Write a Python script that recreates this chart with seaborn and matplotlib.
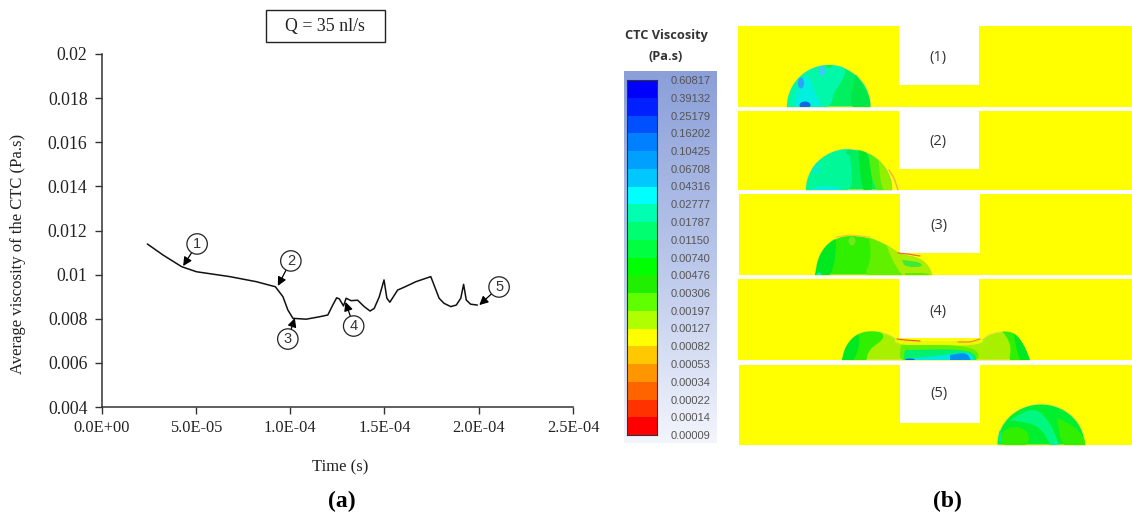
import numpy as np
import pandas as pd
import seaborn as sns
import matplotlib.pyplot as plt
from matplotlib.colors import ListedColormap, LinearSegmentedColormap
from matplotlib.patches import Polygon, Ellipse, Rectangle

# curve
time_s = [2.43e-5, 3.26e-5, 4.25e-5, 5.04e-5, 6.80e-5, 8.21e-5, 9.22e-5, 9.62e-5, 9.88e-5, 1.015e-4,
          1.085e-4, 1.156e-4, 1.200e-4, 1.226e-4, 1.247e-4, 1.261e-4, 1.283e-4, 1.297e-4, 1.323e-4, 1.358e-4,
          1.393e-4, 1.424e-4, 1.446e-4, 1.473e-4, 1.498e-4, 1.513e-4, 1.529e-4, 1.570e-4, 1.605e-4, 1.667e-4,
          1.746e-4, 1.790e-4, 1.816e-4, 1.852e-4, 1.881e-4, 1.905e-4, 1.920e-4, 1.934e-4, 1.957e-4, 1.993e-4]
viscosity = [0.01139, 0.01089, 0.01036, 0.01013, 0.00991, 0.00968, 0.00945, 0.00900, 0.00840, 0.00802,
             0.00798, 0.00809, 0.00817, 0.00862, 0.00895, 0.00890, 0.00858, 0.00893, 0.00882, 0.00884,
             0.00855, 0.00835, 0.00847, 0.00900, 0.00976, 0.00893, 0.00875, 0.00930, 0.00943, 0.00968,
             0.00991, 0.00893, 0.00870, 0.00855, 0.00862, 0.00893, 0.00956, 0.00885, 0.00866, 0.00862]

x_ticks = [0, 5e-5, 1e-4, 1.5e-4, 2e-4, 2.5e-4]
x_labels = ["0.0E+00", "5.0E-05", "1.0E-04", "1.5E-04", "2.0E-04", "2.5E-04"]
y_ticks = [0.004, 0.006, 0.008, 0.01, 0.012, 0.014, 0.016, 0.018, 0.02]
y_labels = ["0.004", "0.006", "0.008", "0.01", "0.012", "0.014", "0.016", "0.018", "0.02"]

callout_names = ["1", "2", "3", "4", "5"]
callout_tip_x = [4.33e-5, 9.35e-5, 1.025e-4, 1.294e-4, 2.003e-4]
callout_tip_y = [0.01039, 0.00949, 0.00803, 0.00876, 0.00862]
callout_txt_x = [5.07e-5, 1.004e-4, 9.88e-5, 1.337e-4, 2.108e-4]
callout_txt_y = [0.01139, 0.01062, 0.00708, 0.00767, 0.00944]

scale_labels = ["0.60817", "0.39132", "0.25179", "0.16202", "0.10425", "0.06708", "0.04316",
                "0.02777", "0.01787", "0.01150", "0.00740", "0.00476", "0.00306", "0.00197",
                "0.00127", "0.00082", "0.00053", "0.00034", "0.00022", "0.00014", "0.00009"]
scale_colors = ["#0000ff", "#0020ff", "#0050ff", "#0080ff", "#00a0ff", "#00c8ff", "#00ffff",
                "#00ffb0", "#00ff70", "#00ff40", "#00ff00", "#20f000", "#60ff00", "#b0ff00",
                "#ffff00", "#ffc800", "#ff9600", "#ff6400", "#ff3200", "#ff0000"]

W, H = 1132, 515
YELLOW = "#ffff00"


def box(left, top, right, bottom):
    # axes rectangle from pixel edges
    return [left / W, 1 - bottom / H, (right - left) / W, (bottom - top) / H]


def dome(cx, base, rx, ry):
    t = np.linspace(np.pi, 0, 60)
    return np.column_stack([cx + rx * np.cos(t), base - ry * np.sin(t)])


def soften(pts, n=3):
    # corner cutting so the contour bands do not look like polygons, end points stay
    pts = np.asarray(pts, dtype=float)
    for _ in range(n):
        q = 0.75 * pts[:-1] + 0.25 * pts[1:]
        r = 0.25 * pts[:-1] + 0.75 * pts[1:]
        mid = np.empty((2 * len(q), 2))
        mid[0::2] = q
        mid[1::2] = r
        pts = np.vstack([pts[0], mid, pts[-1]])
    return pts


sns.set_style("ticks")
serif = "Liberation Serif"
fig = plt.figure(figsize=(W / 100, H / 100), dpi=100)

# panel (a)
ax = fig.add_axes(box(101.5, 54, 573, 407))
df = pd.DataFrame({"time": time_s, "viscosity": viscosity})
sns.lineplot(data=df, x="time", y="viscosity", color="#111111", linewidth=1.1, sort=False, estimator=None, ax=ax)
ax.set_xlim(0, 2.5e-4)
ax.set_ylim(0.004, 0.02)
ax.set_xticks(x_ticks)
ax.set_xticklabels(x_labels, family=serif, fontsize=11.8, color="#222222")
ax.set_yticks(y_ticks)
ax.set_yticklabels(y_labels, family=serif, fontsize=12.8, color="#222222")
ax.tick_params(length=5, width=1, color="#333333")
ax.tick_params(axis="x", pad=4)
ax.tick_params(axis="y", pad=5)
ax.set_xlabel("")
ax.set_ylabel("")
for s in ["left", "bottom"]:
    ax.spines[s].set_color("#333333")
    ax.spines[s].set_linewidth(1.1)
sns.despine(ax=ax)
for name, tx, ty, cx, cy in zip(callout_names, callout_tip_x, callout_tip_y, callout_txt_x, callout_txt_y):
    ax.annotate(name, xy=(tx, ty), xytext=(cx, cy), ha="center", va="center", fontsize=10.5,
                family="Liberation Sans", color="#333333",
                bbox=dict(boxstyle="circle,pad=0.22", fc="white", ec="#222222", lw=0.9),
                arrowprops=dict(arrowstyle="-|>", color="black", lw=0.9, shrinkA=0, shrinkB=0, mutation_scale=13))

# colour scale background and bar
bg = fig.add_axes(box(624, 71, 717, 443))
bg_cmap = LinearSegmentedColormap.from_list("bg", ["#8b9fd9", "#b9c6ea", "#f2f5fc"])
bg.imshow(np.linspace(0, 1, 200).reshape(-1, 1), aspect="auto", cmap=bg_cmap)
bg.axis("off")

cb = fig.add_axes(box(627, 80, 657, 435))
levels = np.arange(len(scale_colors)).reshape(-1, 1)
sns.heatmap(levels, cmap=ListedColormap(scale_colors), cbar=False, xticklabels=False, ax=cb)
cb.patch.set_alpha(0)
cb.yaxis.tick_right()
cb.set_yticks(np.arange(len(scale_labels)))
cb.set_yticklabels(scale_labels, rotation=0, family="Liberation Sans", fontsize=8, color="#555555")
cb.tick_params(axis="y", length=0, pad=10)
for s in cb.spines.values():
    s.set_visible(True)
    s.set_color("#333333")
    s.set_linewidth(0.8)

# overlay in pixel coordinates for panel (b) and the loose labels
ov = fig.add_axes([0, 0, 1, 1], facecolor="none")
ov.set_xlim(0, W)
ov.set_ylim(H, 0)
ov.axis("off")


def add_blob(outline, base_color, layers, spots=(), rim="#e8e840"):
    clip = Polygon(soften(outline, 2), closed=True, fc=base_color, ec=rim, lw=0.8, zorder=2)
    ov.add_patch(clip)
    for color, pts in layers:
        p = Polygon(soften(pts + pts[:1]), closed=True, fc=color, ec="none", zorder=3)
        ov.add_patch(p)
        p.set_clip_path(clip)
    for color, x, y, w, h in spots:
        e = Ellipse((x, y), w, h, fc=color, ec="none", zorder=4)
        ov.add_patch(e)
        e.set_clip_path(clip)


panels = [(738, 26, 107, 899, 85, "(1)", 58), (738, 111, 190, 899, 169, "(2)", 141),
          (739, 194, 275, 900, 253, "(3)", 226), (738, 279, 360, 899, 338, "(4)", 312),
          (739, 365, 445, 900, 423, "(5)", 394)]
for left, top, bottom, rect_l, rect_b, name, label_y in panels:
    ov.add_patch(Rectangle((left, top), 1132 - left, bottom - top, fc=YELLOW, ec="none", zorder=1))
    ov.add_patch(Rectangle((rect_l, top), 80, rect_b - top, fc="white", ec="none", zorder=1.5))
    ov.text(rect_l + 39, label_y, name, ha="center", va="center", family="Open Sans", fontsize=10.5,
            color="#333333", zorder=6)

add_blob(dome(829, 107, 42, 42), "#00f060",
         [("#00f8a8", [(783, 110), (788, 85), (805, 66), (829, 60), (848, 68), (840, 85), (834, 92), (830, 110)]),
          ("#00f0e0", [(793, 110), (797, 88), (807, 73), (812, 85), (818, 100), (826, 110)]),
          ("#00e848", [(856, 74), (876, 110), (850, 110), (852, 88)])],
         [("#40c8f8", 822, 71, 6, 10), ("#30a0f8", 801, 83, 6, 11), ("#1068e8", 805, 105, 11, 7),
          ("#00f060", 829, 66, 5, 4)])

add_blob(dome(849, 190, 43, 41), "#00f060",
         [("#00f898", [(802, 194), (812, 165), (835, 146), (848, 146), (852, 170), (852, 194)]),
          ("#00e828", [(858, 146), (868, 150), (874, 194), (862, 194)]),
          ("#50f010", [(868, 150), (884, 158), (897, 194), (874, 194)]),
          ("#90f000", [(878, 156), (892, 170), (897, 194), (882, 194)])],
         [("#00f0e0", 826, 190, 30, 8), ("#00f0c0", 816, 168, 9, 13), ("#00e860", 849, 152, 6, 5)])
ov.plot([889, 894, 898], [170, 178, 190], color="#f0b050", lw=1, zorder=4)

add_blob([(815, 275), (818, 258), (826, 245), (838, 237), (851, 235), (868, 237), (885, 244), (897, 252),
          (903, 255), (916, 257), (926, 263), (931, 271), (932, 275)], "#30f000",
         [("#00e820", [(810, 280), (815, 258), (826, 243), (838, 234), (832, 280)]),
          ("#60f000", [(868, 232), (890, 242), (905, 252), (920, 255), (938, 280), (862, 280), (872, 258)]),
          ("#a8f000", [(885, 241), (905, 252), (920, 255), (938, 280), (905, 280), (892, 260)]),
          ("#40e838", [(902, 260), (920, 262), (923, 267), (905, 267)]),
          ("#50f000", [(905, 273), (930, 273), (930, 278), (905, 278)])],
         [("#00f0d0", 819, 275, 5, 5), ("#70e820", 852, 241, 7, 9)])
ov.plot([898, 908, 920], [253, 254, 256], color="#f07030", lw=0.9, zorder=5)
ov.plot([836, 850, 870], [237, 235, 237], color="#f0c830", lw=0.8, zorder=5)

add_blob([(842, 360), (845, 348), (852, 338), (862, 332), (875, 331), (888, 334), (895, 338), (899, 342),
          (979, 342), (984, 338), (990, 334), (1003, 331), (1015, 333), (1024, 345), (1030, 360)], "#a8f000",
         [("#30f000", [(838, 365), (848, 338), (862, 328), (878, 329), (886, 338), (868, 350), (866, 365)]),
          ("#00e820", [(838, 365), (846, 342), (858, 330), (860, 345), (852, 365)]),
          ("#30f000", [(1000, 328), (1018, 331), (1034, 365), (1008, 365), (1012, 345)]),
          ("#00e820", [(1013, 331), (1028, 345), (1034, 365), (1020, 365)]),
          ("#e8f800", [(895, 336), (983, 336), (983, 346), (895, 346)]),
          ("#60f000", [(901, 345), (977, 345), (980, 365), (899, 365)]),
          ("#00f070", [(905, 350), (974, 349), (978, 365), (903, 365)]),
          ("#00e8e0", [(906, 359), (945, 355), (971, 351), (975, 365), (906, 365)]),
          ("#0090f0", [(950, 355), (968, 352), (972, 365), (950, 365)])],
         [("#1060e8", 910, 360, 10, 3)])
ov.plot([897, 905, 920], [339, 340, 341], color="#f05030", lw=0.8, zorder=5)
ov.plot([958, 970, 980], [342, 342, 339], color="#f08040", lw=0.8, zorder=5)

add_blob(dome(1041, 445, 44, 41), "#00f030",
         [("#00f880", [(1010, 420), (1035, 406), (1052, 425), (1060, 449), (1052, 449), (1040, 425)]),
          ("#30f000", [(1057, 418), (1078, 428), (1090, 449), (1062, 449)])],
         [("#30f000", 1015, 438, 28, 22), ("#00f0d0", 1056, 445, 4, 7), ("#00f090", 1000, 437, 3, 14)])

# loose labels
ov.text(18, 254, "Average viscosity of the CTC (Pa.s)", rotation=90, ha="center", va="center", family=serif,
        fontsize=12, color="#222222")
ov.text(340, 467, "Time (s)", ha="center", va="center", family=serif, fontsize=12, color="#222222")
ov.add_patch(Rectangle((266, 10), 119, 32, fc="white", ec="#222222", lw=1))
ov.text(325, 27, "Q = 35 nl/s", ha="center", va="center", family=serif, fontsize=12.8, color="#222222")
ov.text(342, 501, "(a)", ha="center", va="center", family=serif, fontweight="bold", fontsize=17, color="black")
ov.text(947, 501, "(b)", ha="center", va="center", family=serif, fontweight="bold", fontsize=17, color="black")
ov.text(666, 36, "CTC Viscosity", ha="center", va="center", family="Open Sans", fontweight="bold", fontsize=9.2,
        color="#333333")
ov.text(666, 56, "(Pa.s)", ha="center", va="center", family="Open Sans", fontweight="bold", fontsize=9.2,
        color="#333333")

plt.savefig("out.png", dpi=100)
